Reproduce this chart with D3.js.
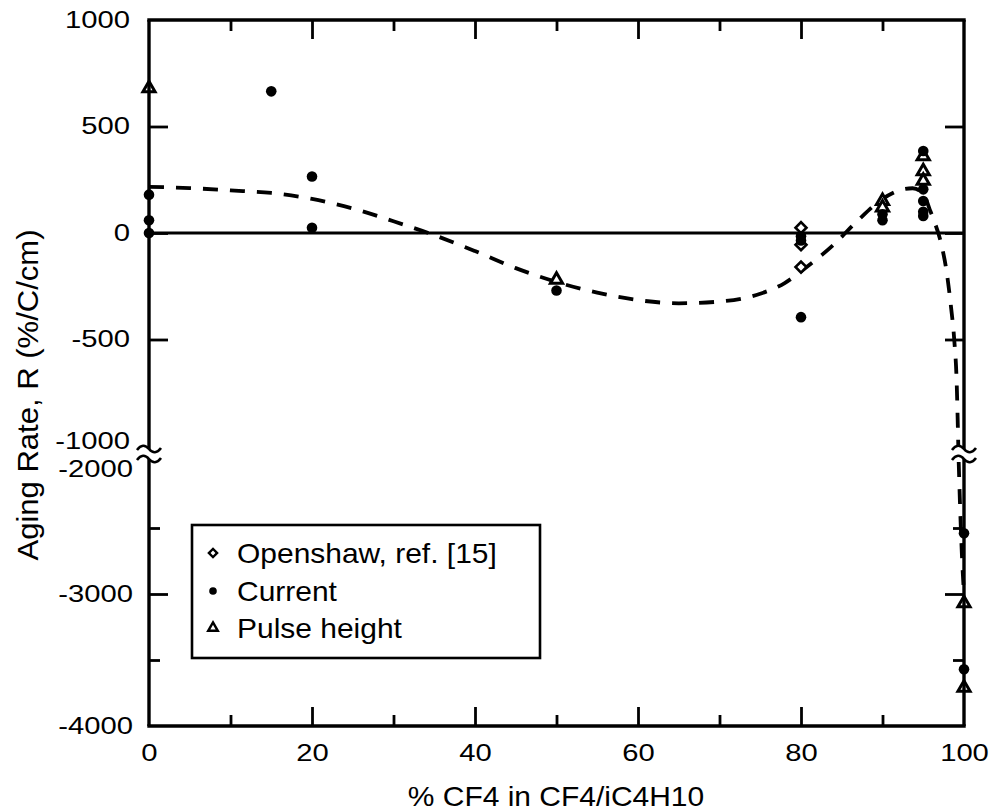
<!DOCTYPE html>
<html>
<head>
<meta charset="utf-8">
<script src="https://cdn.jsdelivr.net/npm/d3@7"></script>
<style>
  body { margin: 0; background: #fff; }
  svg { display: block; font-family: "Liberation Sans", Arial, Helvetica, sans-serif; }
</style>
</head>
<body>
<svg id="chart" width="995" height="812"></svg>
<script>
// Aging rate R (%/C/cm) versus % CF4 in CF4/iC4H10
const openshawX = [80, 80, 80];
const openshawR = [25, -55, -160];

const currentX = [0, 0, 0, 15, 20, 20, 50, 80, 80, 80, 90, 90, 95, 95, 95, 95, 95, 100, 100];
const currentR = [180, 60, 0, 665, 265, 25, -270, -15, -35, -395, 88, 60, 385, 205, 150, 100, 80, -2540, -3570];

const pulseX = [0, 50, 90, 90, 95, 95, 95, 100, 100];
const pulseR = [680, -220, 150, 120, 360, 290, 245, -3070, -3710];

// dashed trend curve, upper panel (R >= -1000) and lower panel (R <= -2000)
const fitUpperX = [0, 5, 10, 15, 20, 25, 30, 35, 40, 45, 50, 55, 60, 65, 70, 75, 78, 80.5, 84, 87, 90, 92.5, 93.7, 95, 95.8, 96.3, 97.2, 97.9, 98.4, 98.8, 99.1, 99.3];
const fitUpperR = [217, 211, 200, 188, 160, 115, 55, -10, -85, -165, -230, -280, -315, -330, -322, -285, -235, -165, -55, 60, 160, 205, 210, 185, 110, 60, -50, -190, -345, -500, -700, -1000];
const fitLowerX = [99.35, 99.5, 99.8, 99.95];
const fitLowerR = [-2000, -2300, -2780, -2950];

const xMajorTicks = [0, 20, 40, 60, 80, 100];
const xMinorTicks = [10, 30, 50, 70, 90];
const yUpperLabels = [1000, 500, 0, -500, -1000];
const yUpperTicks = [500, 0, -500];
const yLowerLabels = [-2000, -3000, -4000];
const yLowerMajor = [-3000];
const yLowerMinor = [-2500, -3500];

const legendLabels = ["Openshaw, ref. [15]", "Current", "Pulse height"];

const svg = d3.select("#chart");

const x = d3.scaleLinear().domain([0, 100]).range([149, 964]);
const yU = d3.scaleLinear().domain([-1000, 1000]).range([446, 20]);
const yL = d3.scaleLinear().domain([-4000, -2000]).range([726, 462]);
const yOf = v => (v >= -1000 ? yU(v) : yL(v));
const plain = v => String(v);   // plain hyphen-minus, no thousands separator

const X0 = x(0), X1 = x(100);
const TOP = yU(1000), BOT = yL(-4000);
const BRK_A = 449, BRK_B = 459;

// widen glyphs horizontally to the face used on the figure
function stretch(sel, k) {
  sel.each(function () {
    const L = this.getComputedTextLength();
    this.setAttribute("textLength", (L * k).toFixed(1));
    this.setAttribute("lengthAdjust", "spacingAndGlyphs");
  });
}

function styleAxis(g, w) {
  g.select(".domain").remove();
  g.selectAll(".tick line").attr("stroke", "#000").attr("stroke-width", w);
}

// ---- zero line
svg.append("line")
  .attr("x1", X0).attr("x2", X1)
  .attr("y1", yU(0)).attr("y2", yU(0))
  .attr("stroke", "#000").attr("stroke-width", 2.8);

// ---- dashed trend
const lineU = d3.line().x((d, i) => x(fitUpperX[i])).y((d, i) => yU(fitUpperR[i])).curve(d3.curveMonotoneX);
const lineL = d3.line().x((d, i) => x(fitLowerX[i])).y((d, i) => yL(fitLowerR[i])).curve(d3.curveMonotoneX);
svg.append("path").attr("d", lineU(fitUpperR))
  .attr("fill", "none").attr("stroke", "#000").attr("stroke-width", 3.8)
  .attr("stroke-dasharray", "15,12");
svg.append("path").attr("d", lineL(fitLowerR))
  .attr("fill", "none").attr("stroke", "#000").attr("stroke-width", 3.8)
  .attr("stroke-dasharray", "15,12");

// ---- markers
const diamond = d3.symbol().type(d3.symbolSquare).size(60);
const tri = d3.symbol().type(d3.symbolTriangle).size(64);

svg.append("g").selectAll("path").data(openshawR).join("path")
  .attr("d", diamond())
  .attr("transform", (d, i) => `translate(${x(openshawX[i])},${yOf(d)}) rotate(45)`)
  .attr("fill", "#fff").attr("stroke", "#000").attr("stroke-width", 2.6);

svg.append("g").selectAll("path").data(pulseR).join("path")
  .attr("d", tri())
  .attr("transform", (d, i) => `translate(${x(pulseX[i])},${yOf(d)})`)
  .attr("fill", "#fff").attr("stroke", "#000").attr("stroke-width", 3);

svg.append("g").selectAll("circle").data(currentR).join("circle")
  .attr("cx", (d, i) => x(currentX[i]))
  .attr("cy", d => yOf(d))
  .attr("r", 5.3).attr("fill", "#000");

// ---- frame with axis break
const frame = svg.append("g").attr("fill", "none").attr("stroke", "#000").attr("stroke-width", 3.4);
frame.append("line").attr("x1", X0 - 1.7).attr("x2", X1 + 1.7).attr("y1", TOP).attr("y2", TOP);
frame.append("line").attr("x1", X0 - 1.7).attr("x2", X1 + 1.7).attr("y1", BOT).attr("y2", BOT);
[X0, X1].forEach(xx => {
  frame.append("line").attr("x1", xx).attr("x2", xx).attr("y1", TOP).attr("y2", BRK_A);
  frame.append("line").attr("x1", xx).attr("x2", xx).attr("y1", BRK_B).attr("y2", BOT);
  [BRK_A, BRK_B].forEach(yy => {
    frame.append("path")
      .attr("d", `M${xx - 12},${yy + 1} q6,-8 12,-1 t12,-1`)
      .attr("stroke-width", 2.6);
  });
});

// ---- x axis ticks (bottom, pointing up) and labels
const gxb = svg.append("g").attr("transform", `translate(0,${BOT})`)
  .call(d3.axisBottom(x).tickValues(xMajorTicks).tickFormat(plain).tickSizeInner(-19).tickSizeOuter(0).tickPadding(19));
styleAxis(gxb, 2.8);
gxb.selectAll(".tick text").attr("font-size", 23).attr("fill", "#000").call(stretch, 1.27);
gxb.selectAll(".tick").filter(d => d === 0 || d === 100).select("line").remove();

const gxbm = svg.append("g").attr("transform", `translate(0,${BOT})`)
  .call(d3.axisBottom(x).tickValues(xMinorTicks).tickSizeInner(-11).tickSizeOuter(0).tickFormat(""));
styleAxis(gxbm, 2.8);

// top axis ticks (pointing down)
const gxt = svg.append("g").attr("transform", `translate(0,${TOP})`)
  .call(d3.axisTop(x).tickValues(xMajorTicks.filter(v => v > 0 && v < 100)).tickSizeInner(-19).tickSizeOuter(0).tickFormat(""));
styleAxis(gxt, 2.8);
const gxtm = svg.append("g").attr("transform", `translate(0,${TOP})`)
  .call(d3.axisTop(x).tickValues(xMinorTicks).tickSizeInner(-11).tickSizeOuter(0).tickFormat(""));
styleAxis(gxtm, 2.8);

// ---- y axis labels
const gyl = svg.append("g").attr("transform", `translate(${X0},0)`)
  .call(d3.axisLeft(yU).tickValues(yUpperLabels).tickFormat(plain).tickSize(0).tickPadding(19));
styleAxis(gyl, 0);
gyl.selectAll(".tick text").attr("font-size", 23).attr("fill", "#000").call(stretch, 1.27);
gyl.selectAll(".tick").filter(d => d === -1000).select("text").attr("y", -5);

const gyl2 = svg.append("g").attr("transform", `translate(${X0},0)`)
  .call(d3.axisLeft(yL).tickValues(yLowerLabels).tickFormat(plain).tickSize(0).tickPadding(16));
styleAxis(gyl2, 0);
gyl2.selectAll(".tick text").attr("font-size", 23).attr("fill", "#000").call(stretch, 1.27);
gyl2.selectAll(".tick").filter(d => d === -2000).select("text").attr("y", 7);

// y ticks on left (pointing right) and right (pointing left)
[[X0, d3.axisLeft], [X1, d3.axisRight]].forEach(([xx, ax]) => {
  const a = svg.append("g").attr("transform", `translate(${xx},0)`)
    .call(ax(yU).tickValues(yUpperTicks).tickSizeInner(-19).tickSizeOuter(0).tickFormat(""));
  styleAxis(a, 2.8);
  const b = svg.append("g").attr("transform", `translate(${xx},0)`)
    .call(ax(yL).tickValues(yLowerMajor).tickSizeInner(-19).tickSizeOuter(0).tickFormat(""));
  styleAxis(b, 2.8);
  const c = svg.append("g").attr("transform", `translate(${xx},0)`)
    .call(ax(yL).tickValues(yLowerMinor).tickSizeInner(-11).tickSizeOuter(0).tickFormat(""));
  styleAxis(c, 2.8);
});

// ---- axis titles
svg.append("text")
  .attr("x", 556).attr("y", 806)
  .attr("text-anchor", "middle").attr("font-size", 28).attr("fill", "#000")
  .text("% CF4 in CF4/iC4H10").call(stretch, 1.07);

svg.append("text")
  .attr("transform", "translate(38,395) rotate(-90)")
  .attr("text-anchor", "middle").attr("font-size", 29).attr("fill", "#000")
  .text("Aging Rate, R (%/C/cm)").call(stretch, 1.07);

// ---- legend
const lg = svg.append("g");
lg.append("rect").attr("x", 192).attr("y", 525).attr("width", 348).attr("height", 133)
  .attr("fill", "#fff").attr("stroke", "#000").attr("stroke-width", 2.6);
const rowY = [553, 591, 628];
const smallDiamond = d3.symbol().type(d3.symbolSquare).size(34);
const smallTri = d3.symbol().type(d3.symbolTriangle).size(40);
lg.append("path").attr("d", smallDiamond())
  .attr("transform", `translate(213,${rowY[0]}) rotate(45)`)
  .attr("fill", "#fff").attr("stroke", "#000").attr("stroke-width", 2.4);
lg.append("circle").attr("cx", 213).attr("cy", rowY[1]).attr("r", 3.8).attr("fill", "#000");
lg.append("path").attr("d", smallTri())
  .attr("transform", `translate(213,${rowY[2]})`)
  .attr("fill", "#fff").attr("stroke", "#000").attr("stroke-width", 2.4);
lg.selectAll("text.lab").data(legendLabels).join("text")
  .attr("class", "lab")
  .attr("x", 237).attr("y", (d, i) => rowY[i] + 10)
  .attr("font-size", 28).attr("fill", "#000")
  .text(d => d).call(stretch, 1.07);
</script>
</body>
</html>
